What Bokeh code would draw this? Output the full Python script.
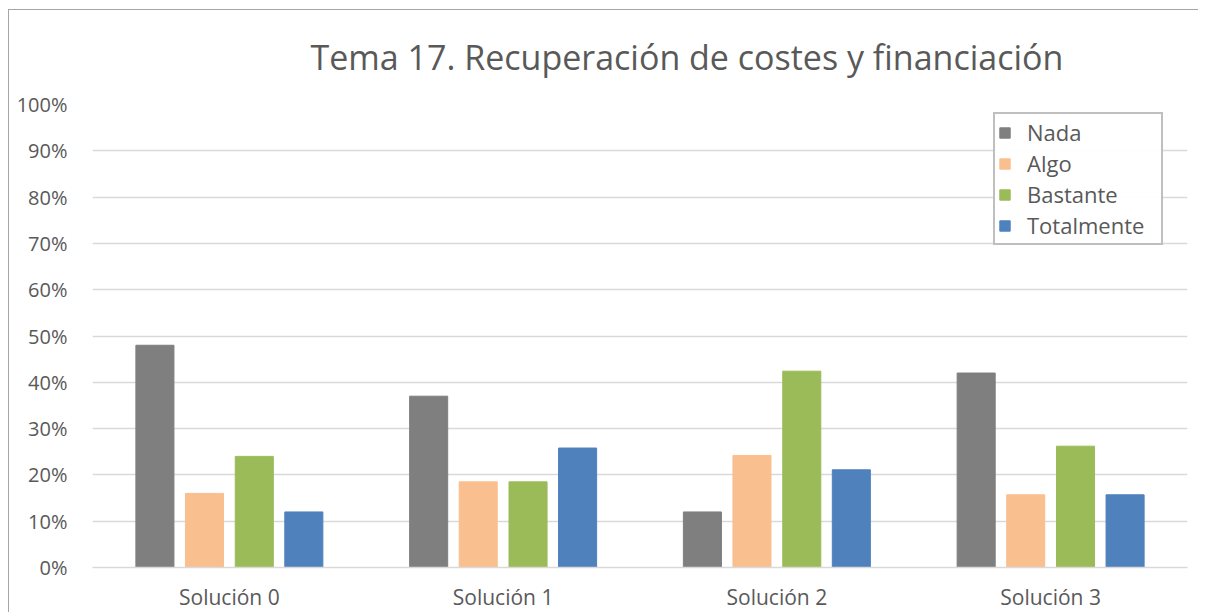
from bokeh.plotting import figure
from bokeh.models import Range1d, FixedTicker, Legend, LegendItem, NumeralTickFormatter
from bokeh.embed import file_html
from bokeh.resources import INLINE

categories = ["Solución 0", "Solución 1", "Solución 2", "Solución 3"]
series = ["Nada", "Algo", "Bastante", "Totalmente"]
nada = [0.48, 0.37, 0.12, 0.42]
algo = [0.16, 0.185, 0.242, 0.157]
bastante = [0.24, 0.185, 0.424, 0.262]
totalmente = [0.12, 0.258, 0.211, 0.157]
y_ticks = [0.0, 0.1, 0.2, 0.3, 0.4, 0.5, 0.6, 0.7, 0.8, 0.9, 1.0]
title_text = "Tema 17. Recuperación de costes y financiación"

colors = ["#7f7f7f", "#f9bf8f", "#9bbb59", "#4f81bd"]
values = [nada, algo, bastante, totalmente]
offsets = [-0.272, -0.091, 0.091, 0.272]
FONT = "Open Sans"
TXT = "#595959"

p = figure(width=1190, height=603, output_backend="svg", toolbar_location=None,
           x_range=Range1d(0, len(categories)), y_range=Range1d(0, 1.0),
           min_border_left=83, min_border_right=12, min_border_top=92, min_border_bottom=40,
           tools="")
p.styles = {"border-left": "1px solid #a6a6a6", "border-top": "1px solid #a6a6a6",
            "margin-left": "8px", "margin-top": "9px"}
p.outline_line_color = None
p.background_fill_color = "white"

p.title.text = title_text
p.title.align = "left"
p.title.offset = 218
p.title.standoff = 46
p.title.vertical_align = "top"
p.title.text_font = FONT
p.title.text_font_size = "34px"
p.title.text_font_style = "normal"
p.title.text_color = TXT

items = []
for name, vals, col, off in zip(series, values, colors, offsets):
    xs = [i + 0.5 + off for i in range(len(categories))]
    r = p.vbar(x=xs, top=vals, width=0.139, bottom=0, fill_color=col, line_color=col, line_width=1)
    items.append(LegendItem(label=name, renderers=[r]))

p.xaxis.ticker = FixedTicker(ticks=[i + 0.5 for i in range(len(categories))])
p.xaxis.major_label_overrides = {i + 0.5: c for i, c in enumerate(categories)}
p.xaxis.axis_line_color = "#d9d9d9"
p.xaxis.axis_line_width = 1.5
p.xaxis.major_tick_line_color = None
p.xaxis.minor_tick_line_color = None
p.xaxis.major_tick_out = 0
p.xaxis.major_tick_in = 0
p.xaxis.major_label_standoff = 15
p.xaxis.major_label_text_font = FONT
p.xaxis.major_label_text_font_size = "21px"
p.xaxis.major_label_text_color = TXT
p.xgrid.grid_line_color = None

p.yaxis.ticker = FixedTicker(ticks=y_ticks)
p.yaxis.formatter = NumeralTickFormatter(format="0%")
p.yaxis.axis_line_color = None
p.yaxis.major_tick_line_color = None
p.yaxis.minor_tick_line_color = None
p.yaxis.major_tick_out = 0
p.yaxis.major_tick_in = 0
p.yaxis.major_label_standoff = 25
p.yaxis.major_label_text_font = FONT
p.yaxis.major_label_text_font_size = "20px"
p.yaxis.major_label_text_color = TXT
p.ygrid.grid_line_color = "#d9d9d9"
p.ygrid.grid_line_width = 1.5

legend = Legend(items=items, location=(901, 322), orientation="vertical",
                label_text_font=FONT, label_text_font_size="22px", label_text_color=TXT,
                glyph_width=13, glyph_height=13, label_height=24, label_width=131,
                spacing=1, padding=3, margin=0, label_standoff=16,
                border_line_color="#7f7f7f", border_line_width=2, background_fill_color="white")
p.add_layout(legend, "center")

open("out.html", "w").write(file_html(p, INLINE))
